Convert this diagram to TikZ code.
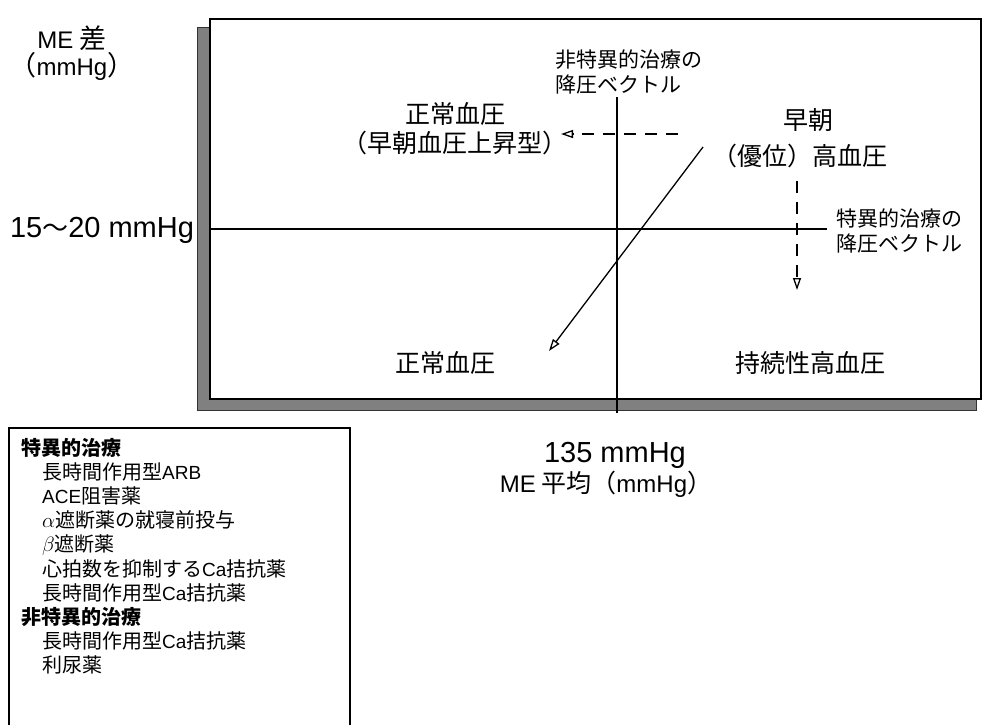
\documentclass[tikz,border=0pt]{standalone}
\usepackage{fontspec}
\setmainfont{Noto Sans CJK JP}
\newfontfamily\lat{Liberation Sans}
\newcommand\legl[1]{{\lat\fontsize{19}{24}\selectfont #1}}
\newcommand\axl[1]{{\lat\fontsize{24}{27}\selectfont #1}}
\newcommand\axb[1]{{\lat\fontsize{29}{30}\selectfont #1}}
\usetikzlibrary{arrows.meta}
\begin{document}
\begin{tikzpicture}[x=1pt,y=-1pt,
  lbl/.style={font=\fontsize{25}{28}\selectfont, inner sep=0pt, align=center},
  axlbl/.style={font=\fontsize{27}{27}\selectfont, inner sep=0pt, align=center},
  axbig/.style={font=\fontsize{26}{30}\selectfont, inner sep=0pt, align=center},
  vec/.style={font=\fontsize{21}{25}\selectfont, inner sep=0pt, align=left, anchor=west},
  leg/.style={font=\fontsize{20}{24}\selectfont, inner sep=0pt, anchor=west},
  legh/.style={leg, font=\fontsize{20}{24}\selectfont\bfseries},
  axis/.style={line width=1.2pt},
  tipopen/.style={-{Triangle[open,length=12pt,width=8pt,line width=1.3pt]}},
  dsh/.style={line width=1.4pt, dash pattern=on 12pt off 9pt},
  shadow/.style={fill=black!50, draw=black!80, line width=0.8pt}
]
\useasboundingbox (0,0) rectangle (985,724);
% shadow and frame
\path[shadow] (197,27) rectangle (976,410);
\path[fill=white, draw=black, line width=2.5pt] (210,19) rectangle (981,399);
% axes
\coordinate (vtop) at (617,97);
\coordinate (vbot) at (617,413);
\coordinate (hleft) at (211,229);
\coordinate (hright) at (827,229);
\draw[axis] (vtop) -- (vbot);
\draw[axis] (hleft) -- (hright);
% arrows
\coordinate (nsA) at (678,134);
\coordinate (nsB) at (561,134);
\draw[dsh, tipopen] (nsA) -- (nsB);
\coordinate (spA) at (797,181);
\coordinate (spB) at (797,290);
\draw[dsh, tipopen] (spA) -- (spB);
\coordinate (dgA) at (703,147);
\coordinate (dgB) at (549,351);
\draw[line width=1.3pt, tipopen] (dgA) -- (dgB);
% axis labels
\node[axlbl] (yl) at (72,53) {\axl{ME} 差\\（\axl{mmHg}）};
\node[axbig] (yv) at (102,230) {\axb{15}～\axb{20 mmHg}};
\node[axbig] (xv) at (615,455) {\axb{135 mmHg}};
\node[axlbl, font=\fontsize{25}{27}\selectfont] (xl) at (606,484) {\axl{ME} 平均（\axl{mmHg}）};
% quadrant labels
\node[lbl] (q1) at (455,129) {正常血圧\\[1pt]（早朝血圧上昇型）};
\node[lbl] (q2a) at (808,120) {早朝};
\node[lbl] (q2b) at (800,156) {（優位）高血圧};
\node[lbl] (q3) at (445,363) {正常血圧};
\node[lbl] (q4) at (810,363) {持続性高血圧};
\node[vec] (nsl) at (555,72) {非特異的治療の\\降圧ベクトル};
\node[vec] (spl) at (836,231) {特異的治療の\\降圧ベクトル};
% legend
\node[coordinate] (legtl) at (9,428) {};
\node[coordinate] (legbr) at (350,735) {};
\draw[line width=1.5pt] (legtl) rectangle (legbr);
\node[legh] (h1) at (21,448) {特異的治療};
\node[leg] (a1) at (42,472) {長時間作用型\legl{ARB}};
\node[leg] (a2) at (42,496) {\legl{ACE}阻害薬};
\node[leg] (a3) at (42,520) {$\alpha$遮断薬の就寝前投与};
\node[leg] (a4) at (42,545) {$\beta$遮断薬};
\node[leg] (a5) at (42,569) {心拍数を抑制する\legl{Ca}拮抗薬};
\node[leg] (a6) at (42,593) {長時間作用型\legl{Ca}拮抗薬};
\node[legh] (h2) at (21,617) {非特異的治療};
\node[leg] (b1) at (42,641) {長時間作用型\legl{Ca}拮抗薬};
\node[leg] (b2) at (42,665) {利尿薬};
\end{tikzpicture}
\end{document}
